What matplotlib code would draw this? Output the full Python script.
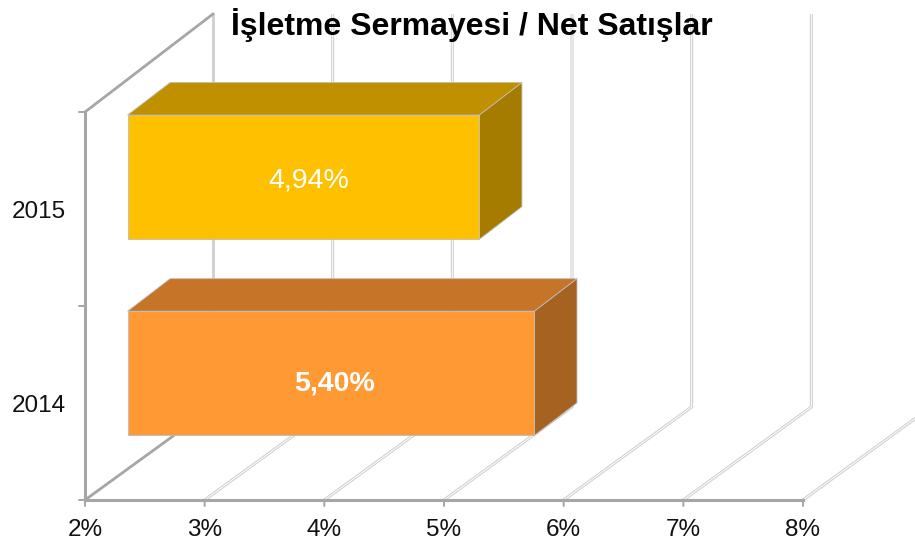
import matplotlib
matplotlib.use("Agg")
import matplotlib.pyplot as plt
from matplotlib.patches import Polygon

plt.rcParams["font.family"] = ["Liberation Sans", "DejaVu Sans"]

W, H = 915, 543

years = ["2014", "2015"]
values = [5.40, 4.94]
value_labels = ["5,40%", "4,94%"]
x_ticks = [2, 3, 4, 5, 6, 7, 8]
x_labels = ["2%", "3%", "4%", "5%", "6%", "7%", "8%"]

front_colors = ["#FF9933", "#FFC000"]
top_colors = ["#C67427", "#C09000"]
side_colors = ["#A66220", "#A67C00"]
label_weights = ["bold", "normal"]
label_nudge = [(3, -10), (5, -3)]

# depth of the box, in data units (x, y)
DX = 128 / 119.67
DY = 98 / 194.0
DY_FLOOR = 93 / 194.0


def proj(x, y, z=0.0):
    return x + DX * z, y + DY * z


def floor(x, z=1.0):
    return x + DX * z, DY_FLOOR * z


def box(ax, i, val, front, top, side):
    y0 = i * 1.011 + 0.165
    y1 = y0 + 0.64
    z0, z1 = 0.333, 0.665
    edge = "#BDBDBD"
    ax.add_patch(Polygon([proj(2, y1, z0), proj(val, y1, z0), proj(val, y1, z1), proj(2, y1, z1)],
                         fc=top, ec=edge, lw=0.6, zorder=3, clip_on=False))
    ax.add_patch(Polygon([proj(val, y0, z0), proj(val, y0, z1), proj(val, y1, z1), proj(val, y1, z0)],
                         fc=side, ec=edge, lw=0.6, zorder=3, clip_on=False))
    ax.add_patch(Polygon([proj(2, y0, z0), proj(val, y0, z0), proj(val, y1, z0), proj(2, y1, z0)],
                         fc=front, ec=edge, lw=0.6, zorder=4, clip_on=False))
    return proj((2 + val) / 2, (y0 + y1) / 2, z0)


def gridline(ax, pts):
    xs, ys = zip(*pts)
    ax.plot(xs, ys, color="#CFCFCF", lw=2.2, zorder=1, clip_on=False,
            solid_joinstyle="miter", solid_capstyle="butt")
    ax.plot(xs, ys, color="white", lw=0.7, zorder=1.1, clip_on=False,
            solid_joinstyle="miter", solid_capstyle="butt")


fig = plt.figure(figsize=(W / 100, H / 100), dpi=100)
ax = fig.add_axes([85 / W, 1 - 500 / H, (803 - 85) / W, (500 - 112) / H])
ax.set_xlim(2, 8)
ax.set_ylim(0, 2)
ax.axis("off")

for t in x_ticks[1:]:
    gridline(ax, [proj(t, 0), floor(t), proj(t, 2, 1)])

# left wall and axes
axc = "#A6A6A6"
ax.plot(*zip(proj(2, 0), floor(2)), color=axc, lw=2, zorder=2, clip_on=False)
ax.plot(*zip(proj(2, 2), proj(2, 2, 1)), color=axc, lw=2, zorder=2, clip_on=False)
ax.plot(*zip(floor(2), proj(2, 2, 1)), color="#CFCFCF", lw=2, zorder=1, clip_on=False,
        solid_capstyle="butt")
ax.plot([2, 2], [0, 2], color=axc, lw=2.2, zorder=2, clip_on=False)
ax.plot([2, 8], [0, 0], color=axc, lw=2.2, zorder=2, clip_on=False)

# tick marks
for t, lab in zip(x_ticks, x_labels):
    ax.annotate("", (t, 0), xytext=(0, -6), textcoords="offset pixels",
                arrowprops=dict(arrowstyle="-", color=axc, lw=1.4, shrinkA=0, shrinkB=0))
    ax.annotate(lab, (t, 0), xytext=(0, -30), textcoords="offset pixels",
                ha="center", va="center", fontsize=17.5, color="#111111", annotation_clip=False)
for v in range(3):
    ax.annotate("", (2, v), xytext=(-6, 0), textcoords="offset pixels",
                arrowprops=dict(arrowstyle="-", color=axc, lw=1.4, shrinkA=0, shrinkB=0))

for i, yr in enumerate(years):
    cx, cy = box(ax, i, values[i], front_colors[i], top_colors[i], side_colors[i])
    ax.annotate(yr, (2, i + 0.5), xytext=(-19, -3), textcoords="offset pixels",
                ha="right", va="center", fontsize=17.5, color="#111111", annotation_clip=False)
    ax.annotate(value_labels[i], (cx, cy), xytext=label_nudge[i], textcoords="offset pixels",
                ha="center", va="center", fontsize=20.5, color="white",
                fontweight=label_weights[i], zorder=5)

fig.text(471.5 / W, 1 - 25 / H, "İşletme Sermayesi / Net Satışlar", ha="center", va="center",
         fontsize=23, fontweight="bold", color="black", zorder=10)

fig.savefig("out.png", dpi=100)
